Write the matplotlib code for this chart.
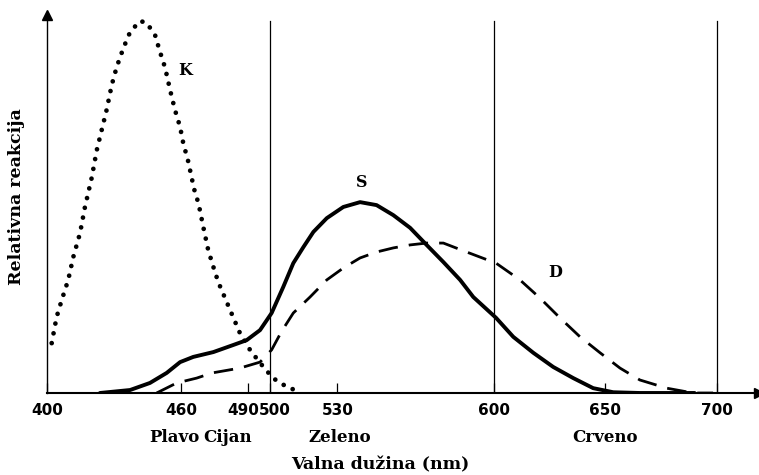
import matplotlib
matplotlib.use("Agg")
import matplotlib.pyplot as plt
from matplotlib import transforms

# K curve (dotted), wavelength nm / relative response
k_nm = [402.1, 404.3, 406.6, 409.5, 411.8, 414.8, 417.0, 420.0, 422.3, 424.5,
        426.7, 429.0, 431.2, 434.2, 437.2, 441.6, 444.6, 448.4, 450.6, 452.9,
        455.1, 457.3, 459.6, 461.0, 463.3, 464.8, 466.3, 467.8, 470.0, 472.2,
        474.5, 476.7, 482.0, 486.4, 490.9, 495.4, 501.2, 507.5, 513.3]
k_val = [13.4, 20.4, 25.0, 30.4, 36.6, 43.0, 50.0, 57.8, 65.3, 70.7,
         76.1, 82.8, 87.6, 92.7, 97.0, 100.0, 99.5, 96.2, 91.7, 87.4,
         81.5, 76.1, 71.5, 67.2, 62.1, 57.8, 53.8, 51.1, 44.6, 38.4,
         33.9, 29.8, 22.3, 16.1, 11.6, 8.1, 4.0, 1.6, 0.3]

# S curve (solid)
s_nm = [423.7, 437.2, 446.1, 453.6, 459.6, 465.5, 474.5, 483.4, 489.4, 495.4,
        500.6, 505.8, 510.3, 514.8, 519.3, 525.3, 532.7, 540.2, 547.6, 555.1,
        562.6, 570.0, 577.5, 585.0, 590.9, 601.1, 608.8, 617.8, 626.7, 635.7,
        644.6, 653.6, 665.5, 690]
s_val = [0, 0.8, 2.7, 5.4, 8.3, 9.7, 11.0, 12.9, 14.2, 16.9,
         21.5, 28.5, 34.9, 39.2, 43.3, 47.0, 50.0, 51.3, 50.5, 47.8,
         44.4, 39.8, 35.2, 30.4, 25.8, 20.2, 15.1, 10.8, 7.0, 4.0,
         1.3, 0.2, 0, 0]

# D curve (dashed)
d_nm = [449.1, 458.1, 467.0, 474.0, 486.4, 495.4, 500.6, 505.0, 510.3, 517.8,
        525.3, 532.7, 540.2, 547.6, 555.1, 562.6, 570.0, 577.5, 587.9, 601.1,
        611.8, 620.8, 629.7, 638.7, 647.7, 656.6, 665.5, 677.5, 689.4, 698.3]
d_val = [0, 2.7, 4.0, 5.4, 6.7, 8.3, 11.6, 16.5, 21.5, 25.8,
         30.4, 33.6, 36.3, 37.9, 39.0, 39.8, 40.3, 40.3, 37.9, 34.9,
         30.4, 25.5, 20.2, 15.1, 10.8, 6.7, 3.5, 1.3, 0, 0]

tick_pos = [400, 460, 490, 500, 530, 600, 650, 700]
tick_lbl = ["400", "460", "490", "500", "530", "600", "650", "700"]
vlines = [500, 600, 700]
color_names = ["Plavo", "Cijan", "Zeleno", "Crveno"]
color_pos = [457, 481, 531, 650]
curve_lbl = ["K", "S", "D"]
curve_lbl_pos = [(462, 86.8), (541, 56.5), (627.5, 32.5)]

serif = dict(family="DejaVu Serif", fontweight="bold")

fig = plt.figure(figsize=(7.59, 4.75), dpi=100)
ax = fig.add_axes([47 / 759, 82 / 475, 712 / 759, 378 / 475])

ax.plot(k_nm, k_val, color="black", lw=3.4, linestyle=(0, (0.01, 2.1)),
        dash_capstyle="round")
ax.plot(s_nm, s_val, color="black", lw=2.8, solid_capstyle="round",
        solid_joinstyle="round")
ax.plot(d_nm, d_val, color="black", lw=2.0, linestyle=(0, (7, 4)))

for v in vlines:
    ax.axvline(v, ymin=0, ymax=0.985, color="black", lw=0.9)

ax.set_xlim(400, 400 + 712 / 2.233)
ax.set_ylim(0, 101.6)

for side in ["top", "right"]:
    ax.spines[side].set_visible(False)
ax.spines["left"].set_linewidth(1.0)
ax.spines["bottom"].set_linewidth(1.5)

# arrow heads
ax.plot(1, 0, ">k", ms=7, transform=ax.get_yaxis_transform(), clip_on=False)
ax.plot(400, 1, "^k", ms=7, transform=ax.get_xaxis_transform(), clip_on=False)

ax.set_yticks([])
ax.set_xticks(tick_pos)
ax.set_xticklabels(tick_lbl, fontweight="bold", fontsize=11)
ax.tick_params(axis="x", direction="in", length=7, width=0.9, pad=7)

# nudge the crowded 490 / 500 labels apart
shifts = {"490": -5, "500": 4}
for lab in ax.get_xticklabels():
    dx = shifts.get(lab.get_text(), 0)
    if dx:
        lab.set_transform(lab.get_transform() +
                          transforms.ScaledTranslation(dx / 100, 0, fig.dpi_scale_trans))

for name, x in zip(color_names, color_pos):
    ax.text(x, -0.118, name, transform=ax.get_xaxis_transform(),
            ha="center", va="center", fontsize=12, **serif)

for lbl, (x, y) in zip(curve_lbl, curve_lbl_pos):
    ax.text(x, y, lbl, ha="center", va="center", fontsize=11.5, **serif)

fig.text(380 / 759, 1 - 465 / 475, "Valna dužina (nm)", ha="center",
         va="center", fontsize=12.5, **serif)
fig.text(17 / 759, 1 - 197 / 475, "Relativna reakcija", ha="center",
         va="center", rotation=90, fontsize=12.5, **serif)

fig.savefig("out.png", dpi=100)
